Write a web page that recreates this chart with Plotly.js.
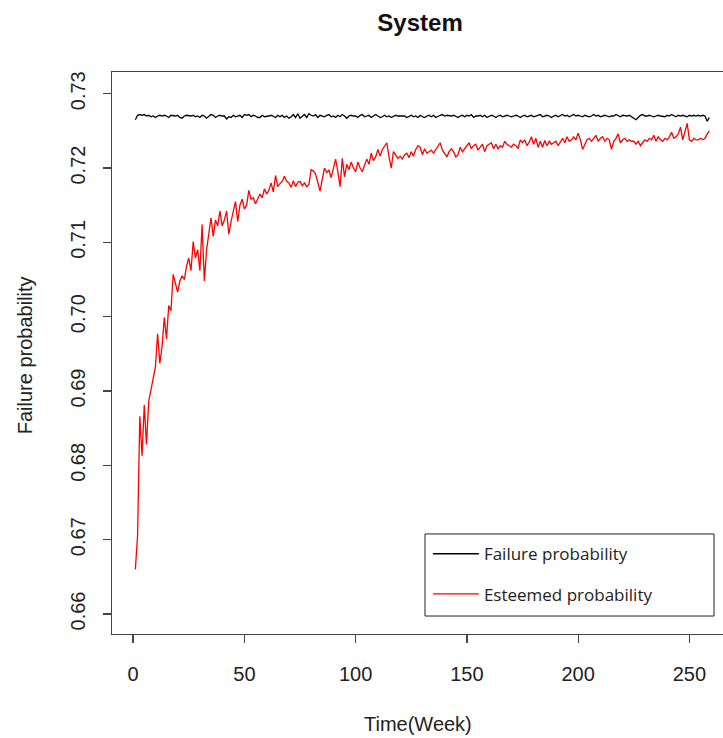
<!DOCTYPE html>
<html>
<head>
<meta charset="utf-8">
<script src="https://cdn.plot.ly/plotly-3.0.1.min.js"></script>
<style>html,body{margin:0;padding:0;background:#fff;}#chart{width:723px;height:738px;}</style>
</head>
<body>
<div id="chart"></div>
<script>
// Observed (true) failure probability per week
const failureProb = [
0.7265,0.7271,0.7272,0.7271,0.7272,0.7270,0.7271,0.7269,0.7270,0.7268,
0.7270,0.7271,0.7270,0.7271,0.7270,0.7268,0.7271,0.7270,0.7270,0.7271,
0.7268,0.7267,0.7270,0.7271,0.7270,0.7270,0.7271,0.7269,0.7270,0.7268,
0.7271,0.7270,0.7267,0.7269,0.7272,0.7271,0.7268,0.7270,0.7271,0.7270,
0.7270,0.7266,0.7269,0.7268,0.7271,0.7269,0.7270,0.7271,0.7268,0.7272,
0.7271,0.7272,0.7269,0.7271,0.7270,0.7268,0.7268,0.7271,0.7269,0.7269,
0.7270,0.7271,0.7270,0.7268,0.7271,0.7269,0.7271,0.7268,0.7270,0.7267,
0.7269,0.7272,0.7268,0.7273,0.7267,0.7270,0.7272,0.7268,0.7273,0.7271,
0.7270,0.7272,0.7268,0.7271,0.7270,0.7269,0.7271,0.7272,0.7269,0.7270,
0.7268,0.7271,0.7269,0.7272,0.7270,0.7267,0.7270,0.7271,0.7270,0.7270,
0.7268,0.7271,0.7272,0.7269,0.7270,0.7271,0.7268,0.7270,0.7272,0.7270,
0.7268,0.7269,0.7271,0.7269,0.7270,0.7268,0.7270,0.7271,0.7270,0.7270,
0.7271,0.7270,0.7268,0.7270,0.7271,0.7269,0.7270,0.7268,0.7271,0.7269,
0.7268,0.7270,0.7271,0.7269,0.7271,0.7268,0.7270,0.7271,0.7272,0.7270,
0.7271,0.7270,0.7270,0.7271,0.7269,0.7268,0.7270,0.7271,0.7269,0.7271,
0.7270,0.7272,0.7268,0.7270,0.7270,0.7271,0.7269,0.7271,0.7268,0.7270,
0.7271,0.7270,0.7268,0.7270,0.7271,0.7269,0.7270,0.7271,0.7270,0.7269,
0.7270,0.7271,0.7270,0.7268,0.7270,0.7271,0.7269,0.7270,0.7271,0.7269,
0.7270,0.7270,0.7272,0.7269,0.7270,0.7271,0.7270,0.7268,0.7270,0.7271,
0.7269,0.7270,0.7272,0.7270,0.7271,0.7269,0.7270,0.7272,0.7270,0.7271,
0.7270,0.7269,0.7271,0.7270,0.7269,0.7270,0.7272,0.7270,0.7271,0.7269,
0.7270,0.7271,0.7270,0.7269,0.7270,0.7270,0.7272,0.7270,0.7269,0.7271,
0.7270,0.7270,0.7271,0.7269,0.7267,0.7265,0.7268,0.7271,0.7272,0.7270,
0.7270,0.7271,0.7270,0.7269,0.7270,0.7271,0.7270,0.7270,0.7269,0.7271,
0.7270,0.7272,0.7270,0.7269,0.7271,0.7270,0.7271,0.7270,0.7269,0.7271,
0.7270,0.7271,0.7270,0.7271,0.7270,0.7271,0.7270,0.7263,0.7268
];

// Estimated probability per week
const esteemedProb = [
0.6660,0.6706,0.6866,0.6813,0.6881,0.6828,0.6886,0.6900,0.6918,0.6932,
0.6977,0.6937,0.6960,0.6999,0.6970,0.7015,0.7008,0.7057,0.7045,0.7033,
0.7048,0.7055,0.7050,0.7068,0.7079,0.7062,0.7101,0.7079,0.7090,0.7062,
0.7124,0.7048,0.7090,0.7112,0.7133,0.7108,0.7130,0.7122,0.7142,0.7122,
0.7130,0.7142,0.7111,0.7128,0.7140,0.7155,0.7128,0.7150,0.7158,0.7145,
0.7150,0.7170,0.7158,0.7160,0.7152,0.7158,0.7165,0.7160,0.7172,0.7165,
0.7170,0.7180,0.7168,0.7190,0.7175,0.7179,0.7182,0.7189,0.7182,0.7180,
0.7174,0.7183,0.7175,0.7181,0.7182,0.7176,0.7180,0.7175,0.7178,0.7198,
0.7196,0.7192,0.7180,0.7169,0.7185,0.7200,0.7194,0.7197,0.7187,0.7200,
0.7212,0.7195,0.7175,0.7213,0.7188,0.7205,0.7198,0.7208,0.7200,0.7195,
0.7208,0.7200,0.7195,0.7204,0.7212,0.7205,0.7220,0.7210,0.7215,0.7225,
0.7216,0.7225,0.7230,0.7234,0.7215,0.7200,0.7222,0.7218,0.7213,0.7216,
0.7212,0.7218,0.7220,0.7214,0.7222,0.7216,0.7225,0.7230,0.7228,0.7218,
0.7226,0.7220,0.7222,0.7224,0.7220,0.7225,0.7230,0.7234,0.7224,0.7220,
0.7215,0.7222,0.7226,0.7222,0.7215,0.7218,0.7228,0.7222,0.7226,0.7230,
0.7234,0.7226,0.7230,0.7232,0.7224,0.7228,0.7232,0.7222,0.7230,0.7232,
0.7234,0.7226,0.7232,0.7226,0.7230,0.7228,0.7236,0.7232,0.7230,0.7228,
0.7232,0.7230,0.7226,0.7238,0.7234,0.7238,0.7230,0.7235,0.7242,0.7232,
0.7240,0.7228,0.7236,0.7228,0.7237,0.7230,0.7236,0.7232,0.7234,0.7236,
0.7230,0.7236,0.7240,0.7234,0.7242,0.7236,0.7238,0.7242,0.7238,0.7247,
0.7238,0.7225,0.7232,0.7238,0.7240,0.7236,0.7240,0.7244,0.7236,0.7240,
0.7242,0.7236,0.7240,0.7238,0.7225,0.7236,0.7240,0.7246,0.7234,0.7238,
0.7240,0.7236,0.7238,0.7236,0.7236,0.7232,0.7236,0.7230,0.7234,0.7238,
0.7236,0.7240,0.7238,0.7244,0.7236,0.7242,0.7238,0.7236,0.7240,0.7238,
0.7242,0.7248,0.7240,0.7242,0.7246,0.7255,0.7238,0.7248,0.7260,0.7238,
0.7236,0.7240,0.7238,0.7238,0.7240,0.7238,0.7240,0.7246,0.7250
];

const weeks = failureProb.map((_, i) => i + 1);
const xTicks = [0, 50, 100, 150, 200, 250];
const yTicks = [0.66, 0.67, 0.68, 0.69, 0.70, 0.71, 0.72, 0.73];
const yTickText = ["0.66", "0.67", "0.68", "0.69", "0.70", "0.71", "0.72", "0.73"];
const seriesNames = ["Failure probability", "Esteemed probability"];

const axisFont = {family: "Liberation Sans, Arial, sans-serif", size: 20, color: "#222"};

const traces = [
  {x: weeks, y: failureProb, type: "scatter", mode: "lines", name: seriesNames[0],
   legendgroup: "a", line: {color: "#000000", width: 1.3}},
  {x: weeks, y: esteemedProb, type: "scatter", mode: "lines", name: seriesNames[1],
   legendgroup: "b", line: {color: "#ff0000", width: 1.3}}
];

const layout = {
  width: 723, height: 738,
  margin: {l: 112, r: 0, t: 72, b: 104, pad: 0},
  paper_bgcolor: "#fff", plot_bgcolor: "#fff",
  showlegend: true,
  title: {text: "<b>System</b>", x: 0.581, xref: "container", y: 0.970, yref: "container",
          xanchor: "center", yanchor: "middle",
          font: {family: "Liberation Sans, Arial, sans-serif", size: 24, color: "#111"}},
  xaxis: {
    range: [-9.5, 265.1], showgrid: false, zeroline: false,
    showline: true, mirror: true, linecolor: "#444", linewidth: 1.3,
    tickmode: "array", tickvals: xTicks, ticks: "outside", ticklen: 8, tickcolor: "#444", tickwidth: 1.3,
    ticklabelstandoff: 14, tickfont: axisFont
  },
  yaxis: {
    range: [0.65731, 0.73292], showgrid: false, zeroline: false,
    showline: true, mirror: false, linecolor: "#444", linewidth: 1.3,
    tickmode: "array", tickvals: yTicks, ticktext: yTickText, ticks: "outside", ticklen: 8,
    tickcolor: "#444", tickwidth: 1.3, tickangle: -90, ticklabelstandoff: 10, tickfont: axisFont
  },
  legend: {
    x: 0.517, y: 0.174, xanchor: "left", yanchor: "top", xref: "paper", yref: "paper",
    bgcolor: "rgba(0,0,0,0)", borderwidth: 0, tracegroupgap: 15, itemwidth: 46,
    font: {family: "Open Sans, sans-serif", size: 17, color: "#222"}
  },
  shapes: [
    {type: "rect", xref: "paper", yref: "paper", x0: 0.5123, x1: 0.9853, y0: 0.032, y1: 0.178,
     line: {color: "#222", width: 1}, fillcolor: "rgba(0,0,0,0)"}
  ],
  annotations: [
    {text: "Time(Week)", xref: "paper", yref: "paper", x: 0.5, y: -0.16, xanchor: "center", yanchor: "middle",
     showarrow: false, font: axisFont},
    {text: "Failure probability", xref: "paper", yref: "paper", x: -0.1424, y: 0.496, xanchor: "center", yanchor: "middle",
     textangle: -90, showarrow: false, font: axisFont}
  ]
};

Plotly.newPlot("chart", traces, layout, {displayModeBar: false, staticPlot: true});
</script>
</body>
</html>
